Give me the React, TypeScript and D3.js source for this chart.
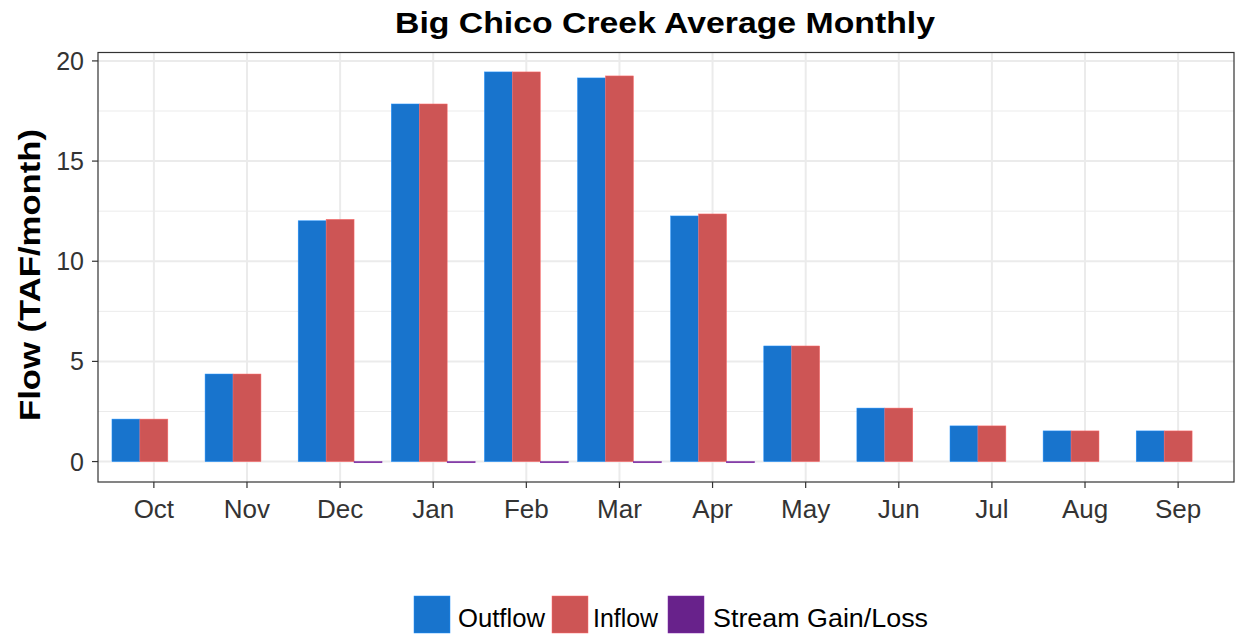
import React from "react";
import * as d3 from "d3";

const months = ["Oct", "Nov", "Dec", "Jan", "Feb", "Mar", "Apr", "May", "Jun", "Jul", "Aug", "Sep"];
const outflow = [2.12, 4.37, 12.02, 17.85, 19.45, 19.15, 12.26, 5.77, 2.67, 1.78, 1.53, 1.53];
const inflow = [2.12, 4.37, 12.09, 17.85, 19.45, 19.25, 12.36, 5.77, 2.67, 1.78, 1.53, 1.53];
const gainLoss = [0, 0, -0.06, -0.06, -0.06, -0.06, -0.06, 0, 0, 0, 0, 0];
const seriesNames = ["Outflow", "Inflow", "Stream Gain/Loss"];
const seriesColors = ["#1874CD", "#CD5555", "#68228B"];
const yTicks = [0, 5, 10, 15, 20];
const yMinor = [2.5, 7.5, 12.5, 17.5];

export default function App() {
  const W = 1236, H = 636;
  const left = 98, right = 1234, top = 52.5, bottom = 482;
  const font = "'Liberation Sans', Arial, sans-serif";

  const step = (right - left) / 12.2;
  const x = d3.scalePoint<string>().domain(months).range([left + 0.6 * step, right - 0.6 * step]);
  const y = d3.scaleLinear().domain([-1.02, 20.42]).range([bottom, top]);
  const groupW = step * 0.9;
  const barW = groupW / 3;
  const series = [outflow, inflow, gainLoss];

  const legendX = [414, 552, 668];
  const legendTextX = [458, 593, 713];
  const legendTextW = [87, 65, 215];

  return (
    <svg width={W} height={H} style={{ position: "absolute", left: 0, top: 0 }} fontFamily={font}>
      <rect x={0} y={0} width={W} height={H} fill="#fff" />
      <text x={665} y={33} textAnchor="middle" fontSize={29} fontWeight="bold" fill="#000"
        textLength={540} lengthAdjust="spacingAndGlyphs">
        Big Chico Creek Average Monthly
      </text>
      {/* grid */}
      {yMinor.map((v) => (
        <line key={"mn" + v} x1={left} x2={right} y1={y(v)} y2={y(v)} stroke="#ebebeb" strokeWidth={1} />
      ))}
      {yTicks.map((v) => (
        <line key={"mj" + v} x1={left} x2={right} y1={y(v)} y2={y(v)} stroke="#ebebeb" strokeWidth={2} />
      ))}
      {months.map((m) => (
        <line key={"vx" + m} x1={x(m)!} x2={x(m)!} y1={top} y2={bottom} stroke="#ebebeb" strokeWidth={2} />
      ))}
      {/* bars */}
      {series.map((vals, si) =>
        vals.map((v, i) => {
          const x0 = x(months[i])! - groupW / 2 + si * barW;
          const y0 = y(Math.max(0, v));
          const h = Math.abs(y(v) - y(0));
          return (
            <rect key={si + "-" + i} x={x0} y={y0} width={barW} height={h} fill={seriesColors[si]}
              stroke={h > 0 ? d3.color(seriesColors[si])!.brighter(0.6).toString() : "none"} strokeWidth={0.5} />
          );
        })
      )}
      {/* panel border */}
      <rect x={left} y={top} width={right - left} height={bottom - top} fill="none" stroke="#333" strokeWidth={1.2} />
      {/* y axis */}
      {yTicks.map((v) => (
        <g key={"yt" + v}>
          <line x1={left - 6} x2={left} y1={y(v)} y2={y(v)} stroke="#333" strokeWidth={1.2} />
          <text x={left - 14} y={y(v) + 9} textAnchor="end" fontSize={25} fill="#333">{v}</text>
        </g>
      ))}
      {/* x axis */}
      {months.map((m) => (
        <g key={"xt" + m}>
          <line x1={x(m)!} x2={x(m)!} y1={bottom} y2={bottom + 6} stroke="#333" strokeWidth={1.2} />
          <text x={x(m)!} y={518} textAnchor="middle" fontSize={26} fill="#333">{m}</text>
        </g>
      ))}
      <text transform={`translate(40,275) rotate(-90)`} textAnchor="middle" fontSize={29} fontWeight="bold" fill="#000"
        textLength={292} lengthAdjust="spacingAndGlyphs">
        Flow (TAF/month)
      </text>
      {/* legend */}
      {seriesNames.map((n, i) => (
        <g key={"lg" + n}>
          <rect x={legendX[i]} y={596} width={36} height={37} fill={seriesColors[i]} stroke={d3.color(seriesColors[i])!.brighter(0.6).toString()} strokeWidth={0.5} />
          <text x={legendTextX[i]} y={627} fontSize={26} fill="#000" textLength={legendTextW[i]} lengthAdjust="spacingAndGlyphs">{n}</text>
        </g>
      ))}
    </svg>
  );
}
